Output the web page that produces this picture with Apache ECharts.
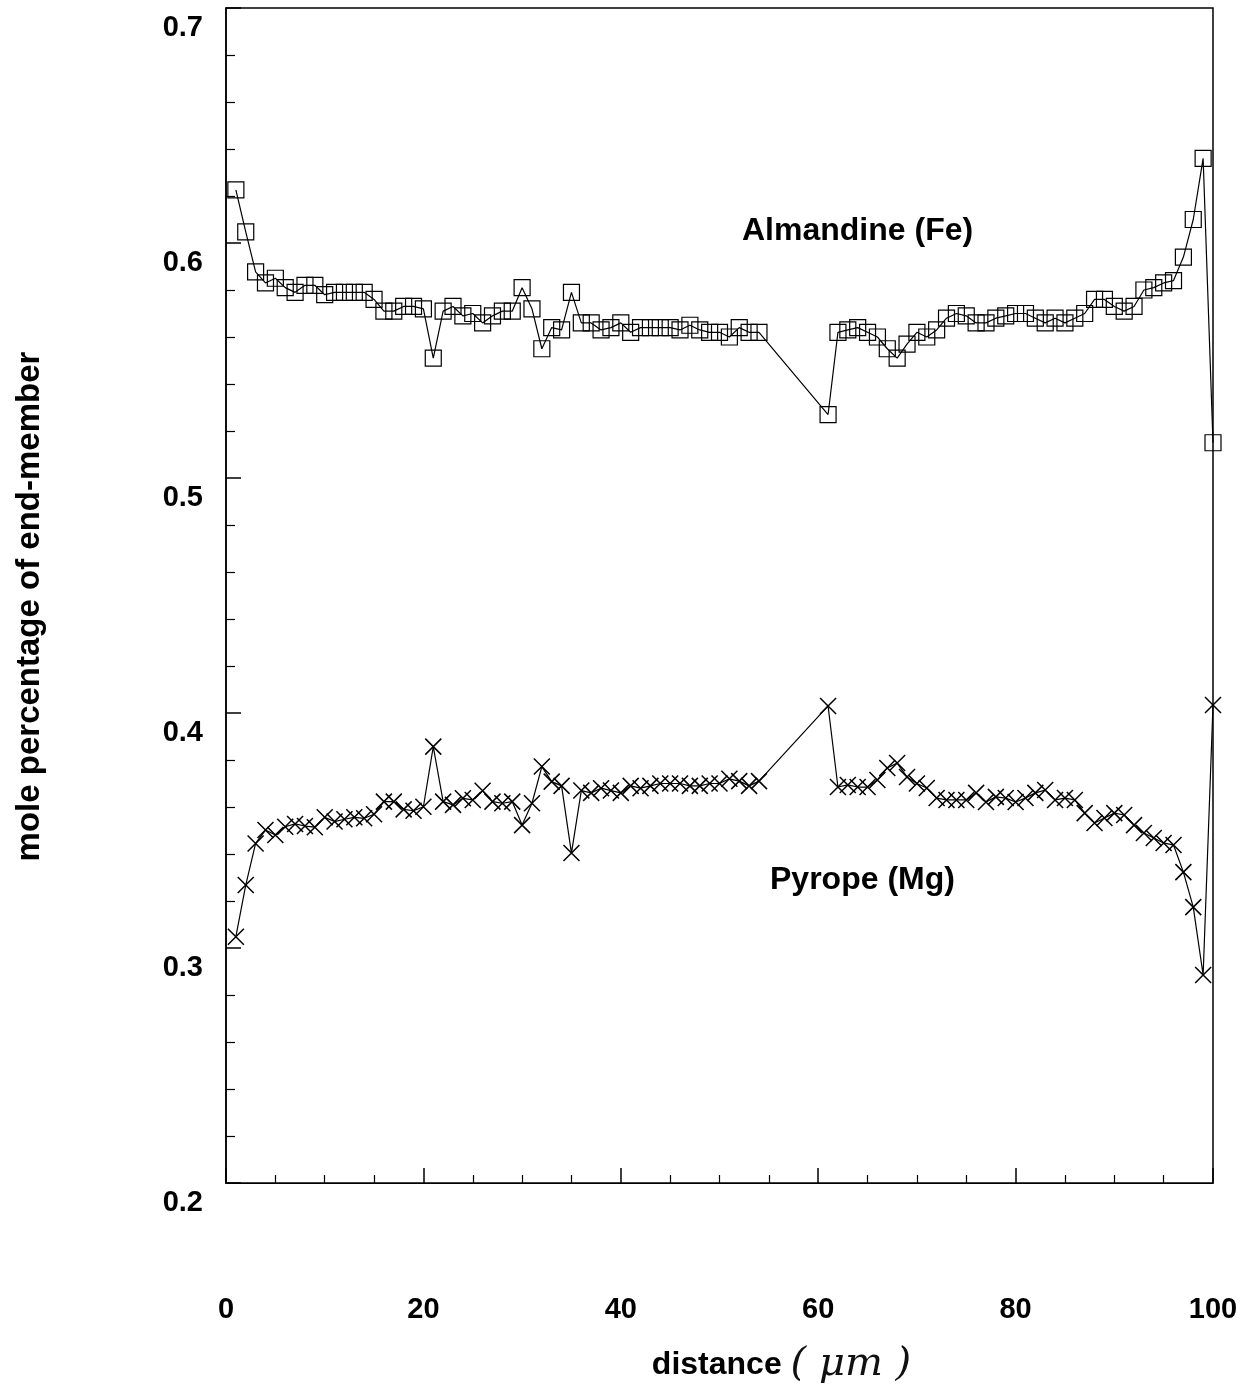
<!DOCTYPE html>
<html>
<head>
<meta charset="utf-8">
<script src="https://cdn.jsdelivr.net/npm/echarts@6/dist/echarts.min.js"></script>
<style>
html,body{margin:0;padding:0;background:#fff;}
#chart{width:1244px;height:1400px;}
</style>
</head>
<body>
<div id="chart"></div>
<script>
// distance (µm) of each analysis point
const distance = [
  1,2,3,4,5,6,7,8,9,10,11,12,13,14,15,16,17,18,19,20,
  21,22,23,24,25,26,27,28,29,30,31,32,33,34,35,36,37,38,39,40,
  41,42,43,44,45,46,47,48,49,50,51,52,53,54,
  61,62,63,64,65,66,67,68,69,70,
  71,72,73,74,75,76,77,78,79,80,81,82,83,84,85,86,87,88,89,90,
  91,92,93,94,95,96,97,98,99,100
];
// Almandine (Fe) mole fraction
const almandine = [
  0.6226,0.6047,0.5877,0.583,0.585,0.581,0.579,0.582,0.582,0.578,
  0.579,0.579,0.579,0.579,0.576,0.571,0.571,0.573,0.573,0.572,
  0.551,0.571,0.573,0.569,0.570,0.566,0.569,0.571,0.571,0.581,
  0.572,0.555,0.564,0.563,0.579,
  0.566,0.566,0.563,0.564,0.566,0.562,0.564,0.564,0.564,0.564,
  0.563,0.565,0.563,0.562,0.562,0.560,0.564,0.562,0.562,
  0.527,0.562,0.563,0.564,0.562,0.560,0.555,0.551,
  0.557,0.562,0.560,0.563,0.568,0.570,0.569,0.566,0.566,0.568,
  0.569,0.570,0.570,0.568,0.566,0.568,0.566,0.568,0.570,0.576,
  0.576,0.573,0.571,0.573,0.580,0.581,0.583,0.584,0.594,0.610,
  0.636,0.515
];
// Pyrope (Mg) mole fraction
const pyrope = [
  0.3048,0.3268,0.3445,0.3502,0.3481,0.3516,0.3528,0.3519,0.3514,0.3556,
  0.3538,0.3548,0.3556,0.3552,0.3569,0.3623,0.3623,0.3590,0.3584,0.3601,
  0.3857,0.3623,0.3609,0.3637,0.3630,0.3669,0.3623,0.3616,0.3623,0.3523,
  0.3616,0.3772,0.3708,0.3690,0.3404,
  0.367,0.366,0.368,0.367,0.366,0.369,0.368,0.369,0.370,0.370,
  0.370,0.369,0.369,0.370,0.370,0.372,0.371,0.369,0.371,
  0.403,0.3685,0.3694,0.3685,0.3685,0.3715,0.3766,0.3787,
  0.3728,0.370,0.3681,0.3638,0.363,0.363,0.363,0.366,0.3621,0.3643,
  0.3638,0.3621,0.3638,0.366,0.3672,0.363,0.3638,0.363,0.3574,0.3532,
  0.3553,0.3574,0.3566,0.3523,0.3489,0.3468,0.3447,0.3438,0.3323,0.3174,
  0.2885,0.4034
];
const xTicks = [0,20,40,60,80,100];
const yTicks = [0.2,0.3,0.4,0.5,0.6,0.7];
const seriesNames = ['Almandine (Fe)','Pyrope (Mg)'];

const FONT = '"Liberation Sans", Arial, Helvetica, sans-serif';
const chart = echarts.init(document.getElementById('chart'), null, {renderer:'canvas'});

const almData = distance.map((d,i)=>[d, almandine[i]]);
const pyrData = distance.map((d,i)=>[d, pyrope[i]]);

chart.setOption({
  animation:false,
  backgroundColor:'#fff',
  grid:{left:226,right:31,top:8,bottom:217,show:true,borderColor:'#000',borderWidth:1.5,backgroundColor:'transparent'},
  xAxis:{
    type:'value',min:xTicks[0],max:xTicks[xTicks.length-1],interval:20,
    name:'{a|distance }{b|( μm )}',
    nameLocation:'middle',nameGap:160,
    nameTextStyle:{
      padding:[0,0,0,124],
      rich:{
        a:{fontFamily:FONT,fontWeight:'bold',fontSize:32,color:'#000',lineHeight:44},
        b:{fontFamily:'"DejaVu Serif", serif',fontStyle:'italic',fontWeight:'normal',fontSize:40,color:'#111',lineHeight:44}
      }
    },
    axisLine:{show:true,lineStyle:{color:'#000',width:1.2}},
    axisTick:{show:true,inside:true,length:15,lineStyle:{color:'#000',width:1.5}},
    minorTick:{show:true,splitNumber:4,length:8,lineStyle:{color:'#000',width:1.2}},
    splitLine:{show:false},
    axisLabel:{margin:112,fontFamily:FONT,fontWeight:'bold',fontSize:29,color:'#000'}
  },
  yAxis:{
    type:'value',min:yTicks[0],max:yTicks[yTicks.length-1],interval:0.1,
    name:'mole percentage of end-member',
    nameLocation:'middle',nameGap:180,nameRotate:90,
    nameTextStyle:{fontFamily:FONT,fontWeight:'bold',fontSize:33,color:'#000',padding:[0,22,0,0]},
    axisLine:{show:true,lineStyle:{color:'#000',width:1.5}},
    axisTick:{show:true,inside:true,length:15,lineStyle:{color:'#000',width:1.5}},
    minorTick:{show:true,splitNumber:5,length:9,lineStyle:{color:'#000',width:1.2}},
    splitLine:{show:false},
    axisLabel:{
      margin:23,fontFamily:FONT,fontWeight:'bold',fontSize:29,color:'#000',
      verticalAlign:'top',lineHeight:40,
      formatter:v=>v.toFixed(1)
    }
  },
  graphic:[
    {type:'text',left:742,top:215,style:{text:seriesNames[0],font:'bold 32px '+FONT,fill:'#000'}},
    {type:'text',left:770,top:864,style:{text:seriesNames[1],font:'bold 32px '+FONT,fill:'#000'}}
  ],
  series:[
    {
      name:seriesNames[0],type:'line',data:almData,
      symbol:'rect',symbolSize:16,
      lineStyle:{color:'#000',width:1.2},
      itemStyle:{color:'rgba(0,0,0,0)',borderColor:'#000',borderWidth:1.2},
      emphasis:{disabled:true}
    },
    {
      name:seriesNames[1],type:'line',data:pyrData,
      symbol:'path://M0,0L20,20M20,0L0,20',symbolSize:16,
      lineStyle:{color:'#000',width:1.2},
      itemStyle:{color:'none',borderColor:'#000',borderWidth:1.5},
      emphasis:{disabled:true}
    }
  ]
});
</script>
</body>
</html>
